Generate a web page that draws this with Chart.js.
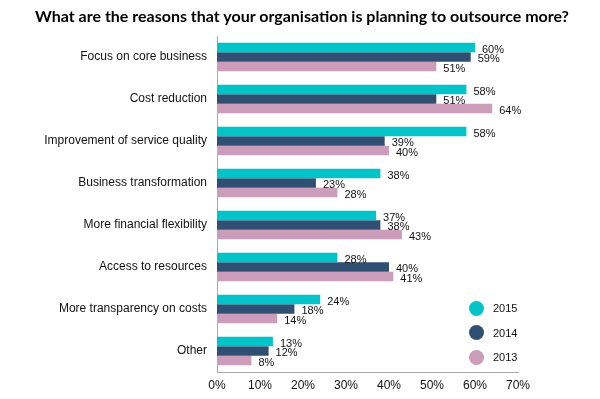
<!DOCTYPE html>
<html>
<head>
<meta charset="utf-8">
<script src="https://cdn.jsdelivr.net/npm/chart.js@4"></script>
<style>
    html, body { margin: 0; padding: 0; background: #fff; }
    #wrap { position: relative; width: 600px; height: 399px; }
    #myChart { position: absolute; left: 0; top: 0; }
    #title { position: absolute; left: 2px; top: 6px; width: 600px; text-align: center; font: bold 16px Lato, sans-serif; color: #000; }
    #legend { position: absolute; left: 469px; top: 296px; font: 11px "Liberation Sans", Arial, sans-serif; color: #111; }
    .item { display: flex; align-items: center; height: 24.5px; }
    .dot { width: 15px; height: 15px; border-radius: 50%; margin-right: 9px; }
</style>
</head>
<body>
<div id="wrap">
    <canvas id="myChart" width="600" height="399"></canvas>
    <div id="title">What are the reasons that your organisation is planning to outsource more?</div>
    <div id="legend"></div>
</div>
<script>
const categories = [
    'Focus on core business',
    'Cost reduction',
    'Improvement of service quality',
    'Business transformation',
    'More financial flexibility',
    'Access to resources',
    'More transparency on costs',
    'Other',
]
const years = ['2015', '2014', '2013']
const values2015 = [60, 58, 58, 38, 37, 28, 24, 13]
const values2014 = [59, 51, 39, 23, 38, 40, 18, 12]
const values2013 = [51, 64, 40, 28, 43, 41, 14, 8]
const colors = ['#00C4C8', '#2F4F73', '#CB9DBA']

const valueLabels = {
    id: 'valueLabels',
    afterDatasetsDraw(chart) {
        const ctx = chart.ctx
        ctx.save()
        ctx.font = '11px "Liberation Sans", Arial, sans-serif'
        ctx.fillStyle = '#111'
        ctx.textBaseline = 'middle'
        chart.data.datasets.forEach((ds, i) => {
            chart.getDatasetMeta(i).data.forEach((bar, j) => {
                ctx.fillText(ds.data[j] + '%', bar.x + 7, bar.y + 2)
            })
        })
        ctx.restore()
    }
}

const ctx = document.getElementById('myChart').getContext('2d')

const data = {
    labels: categories,
    datasets: [values2015, values2014, values2013].map((vals, i) => ({
        label: years[i],
        data: vals,
        backgroundColor: colors[i],
        categoryPercentage: 0.68,
        barPercentage: 1,
    })),
}

const config = {
    type: 'bar',
    data: data,
    plugins: [valueLabels],
    options: {
        indexAxis: 'y',
        responsive: false,
        animation: false,
        layout: { padding: { left: 0, right: 82, top: 36, bottom: 0 } },
        plugins: {
            legend: { display: false },
            tooltip: { enabled: false },
        },
        scales: {
            x: {
                min: 0,
                max: 70,
                afterFit: (s) => { s.height = 27 },
                ticks: {
                    stepSize: 10,
                    callback: (v) => v + '%',
                    color: '#111',
                    font: { family: 'Liberation Sans', size: 12 },
                    padding: 6,
                },
                grid: { display: false, drawTicks: false },
                border: { display: true, color: '#aaa' },
            },
            y: {
                afterFit: (s) => { s.width = 217 },
                ticks: {
                    color: '#111',
                    font: { family: 'Liberation Sans', size: 12 },
                    padding: 10,
                },
                grid: { display: false, drawTicks: false },
                border: { display: true, color: '#aaa' },
            },
        },
    },
}

new Chart(ctx, config)

const legend = document.getElementById('legend')
years.forEach((y, i) => {
    legend.innerHTML += `<div class="item"><span class="dot" style="background:${colors[i]}"></span>${y}</div>`
})
</script>
</body>
</html>
